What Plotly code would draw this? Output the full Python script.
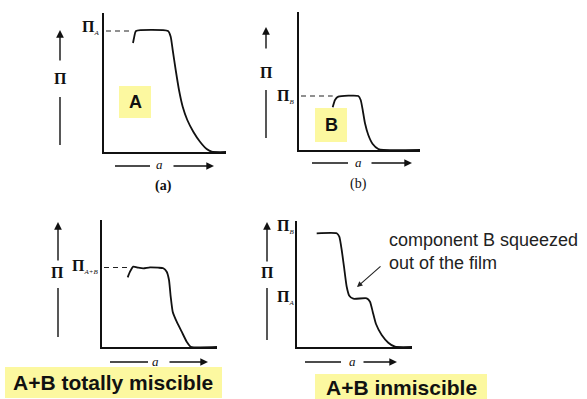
import plotly.graph_objects as go

W, H = 587, 399

# ---------------- data (a = area per molecule, pi = surface pressure; arbitrary units) -------------
# (a) pure component A
a_A = [29, 30, 32, 64, 66.7, 68.7, 71.7, 75, 78.7, 83.3, 89.3, 96, 102.7, 107.7, 122]
pi_A = [109, 114, 121, 121, 115.3, 102, 82, 62, 45.3, 32, 20.3, 10.3, 3, 0.3, 0]
pi_A_collapse = 121
# (b) pure component B
a_B = [33.7, 36, 39.3, 59.3, 61.7, 63.7, 66, 69.3, 73.7, 79.3, 84.3, 121]
pi_B = [42.7, 50, 53.3, 54, 50, 40, 26.7, 15, 6, 1, 0, 0]
pi_B_collapse = 54
# (c) A+B totally miscible
a_AB = [25.7, 28, 31.3, 36.3, 41.3, 48, 56.3, 61.3, 64.7, 67, 68.7, 70.7, 74.7, 79.7, 84.7, 88.7, 115]
pi_AB = [69.7, 75.3, 80.3, 79.3, 78.7, 79.7, 79.3, 78.7, 75.3, 67, 50.3, 35.3, 25.3, 15.3, 5.3, 0.3, 0]
pi_AB_collapse = 79.5
# (d) A+B immiscible
a_imm = [19.7, 39.7, 42.3, 44.7, 47, 49.7, 52.3, 56.3, 69.7, 73, 75.7, 79, 84.7, 91.3, 98, 115]
pi_imm = [113.7, 113.7, 110.3, 97, 80.3, 60.3, 51.3, 48.3, 48.7, 45.3, 35.3, 23, 12, 4.3, 0.3, 0]
squeeze_point = (60, 60)

panel_titles = ["(a)", "(b)", "", ""]
box_labels = ["A", "B", "A+B totally miscible", "A+B inmiscible"]
note_text = "component B squeezed<br>out of the film"

# ---------------- layout helpers ----------------
def px(x):
    return x / W

def py(y):
    return 1 - y / H

# pixel boxes for the four plot areas: (left, right, top, bottom) and axis ranges
panels = [
    dict(box=(104, 226, 13, 152), xr=122, yr=139),
    dict(box=(299, 420, 12, 150), xr=121, yr=138),
    dict(box=(102, 217, 220, 347), xr=115, yr=127),
    dict(box=(297, 412, 221, 347), xr=115, yr=126),
]

fig = go.Figure()
layout = dict(
    width=W, height=H, margin=dict(l=0, r=0, t=0, b=0),
    paper_bgcolor="white", plot_bgcolor="white", showlegend=False,
)

curves = [(a_A, pi_A), (a_B, pi_B), (a_AB, pi_AB), (a_imm, pi_imm)]
collapse = [(pi_A_collapse, a_A[0]), (pi_B_collapse, a_B[0]), (pi_AB_collapse, a_AB[0]), None]

for i, p in enumerate(panels):
    n = "" if i == 0 else str(i + 1)
    l, r, t, b = p["box"]
    layout["xaxis" + n] = dict(
        domain=[px(l), px(r)], range=[0, p["xr"]], anchor="y" + n,
        showline=True, linecolor="#111", linewidth=1.6, mirror=False,
        showgrid=False, zeroline=False, showticklabels=False, ticks="",
    )
    layout["yaxis" + n] = dict(
        domain=[py(b), py(t)], range=[0, p["yr"]], anchor="x" + n,
        showline=True, linecolor="#111", linewidth=1.6, mirror=False,
        showgrid=False, zeroline=False, showticklabels=False, ticks="",
    )
    xs, ys = curves[i]
    fig.add_trace(go.Scatter(
        x=xs, y=ys, mode="lines", xaxis="x" + n, yaxis="y" + n,
        line=dict(color="#111", width=1.8, shape="spline", smoothing=0.5),
        cliponaxis=False, hoverinfo="skip",
    ))
    if collapse[i] is not None:
        pv, a0 = collapse[i]
        fig.add_trace(go.Scatter(
            x=[2, a0], y=[pv, pv], mode="lines", xaxis="x" + n, yaxis="y" + n,
            line=dict(color="#222", width=1.2, dash="5px,4px"), hoverinfo="skip",
        ))

fig.update_layout(**layout)

shapes = []
ann = []

serif = "Liberation Serif"
sans = "Liberation Sans"

def text(x, y, t, size, fam=serif, color="#111", xa="center", ya="middle", align="center"):
    ann.append(dict(xref="paper", yref="paper", x=px(x), y=py(y), text=t, showarrow=False,
                    font=dict(family=fam, size=size, color=color), xanchor=xa, yanchor=ya,
                    align=align))

def seg(x0, y0, x1, y1, w=1.4):
    shapes.append(dict(type="line", xref="paper", yref="paper", x0=px(x0), y0=py(y0),
                       x1=px(x1), y1=py(y1), line=dict(color="#111", width=w)))

def arrow(x_tip, y_tip, x_tail, y_tail, w=1.4):
    ann.append(dict(xref="paper", yref="paper", x=px(x_tip), y=py(y_tip), text="",
                    showarrow=True, axref="pixel", ayref="pixel",
                    ax=x_tail - x_tip, ay=y_tail - y_tip,
                    arrowhead=2, arrowsize=1.1, arrowwidth=w, arrowcolor="#111"))

def box(x0, y0, x1, y1):
    shapes.append(dict(type="rect", xref="paper", yref="paper", x0=px(x0), y0=py(y1),
                       x1=px(x1), y1=py(y0), fillcolor="#FCF8A0", line=dict(width=0), layer="below"))

# vertical Pi indicators: x, tip, upper end, label y, lower start, lower end
pi_ind = [(60, 30, 62, 78, 97, 145), (266, 27, 50, 72, 90, 138),
          (58, 222, 262, 272, 288, 337), (267, 222, 263, 272, 288, 340)]
for x, tip, up, ly, lo0, lo1 in pi_ind:
    arrow(x, tip, x, up)
    text(x, ly, "<b>Π</b>", 16)
    seg(x, lo0, x, lo1)

# horizontal a indicators: y, left start, left end, a x, right start, right end
a_ind = [(166, 115, 150, 159, 172, 214), (163, 312, 348, 358, 370, 412),
         (362, 110, 148, 155, 168, 208), (362, 305, 341, 352, 362, 397)]
for y, l0, l1, ax_, r0, r1 in a_ind:
    seg(l0, y, l1, y)
    text(ax_, y - 1, "<i>a</i>", 13)
    arrow(r1, y, r0, y)

# level labels
sub = "<sub><span style='font-size:7px'><i>%s</i></span></sub>"
text(101, 27, "<b>Π</b>" + sub % "A", 16, xa="right")
text(296, 96, "<b>Π</b>" + sub % "B", 16, xa="right")
text(100, 266, "<b>Π</b>" + sub % "A+B", 16, xa="right")
text(296, 226, "<b>Π</b>" + sub % "B", 16, xa="right")
text(296, 297, "<b>Π</b>" + sub % "A", 16, xa="right")

# panel titles
text(163, 186, "<b>" + panel_titles[0] + "</b>", 14)
text(358, 184, panel_titles[1], 14)

# yellow labels
box(119, 86, 151, 118)
text(135, 102, "<b>" + box_labels[0] + "</b>", 18, fam=sans)
box(315, 108, 347, 142)
text(331, 125, "<b>" + box_labels[1] + "</b>", 18, fam=sans)
box(5, 367, 222, 398)
text(113, 382, "<b>" + box_labels[2] + "</b>", 21, fam=sans)
box(315, 374, 487, 405)
text(401, 387, "<b>" + box_labels[3] + "</b>", 21, fam=sans)

# note with arrow in panel (d)
text(387, 251, note_text, 18, fam=sans, color="#222", xa="left", align="left")
ann.append(dict(xref="x4", yref="y4", x=squeeze_point[0], y=squeeze_point[1], text="",
                showarrow=True, axref="pixel", ayref="pixel", ax=25, ay=-22,
                arrowhead=2, arrowsize=1, arrowwidth=1.1, arrowcolor="#222"))

fig.update_layout(shapes=shapes, annotations=ann)
fig.write_html("out.html")
